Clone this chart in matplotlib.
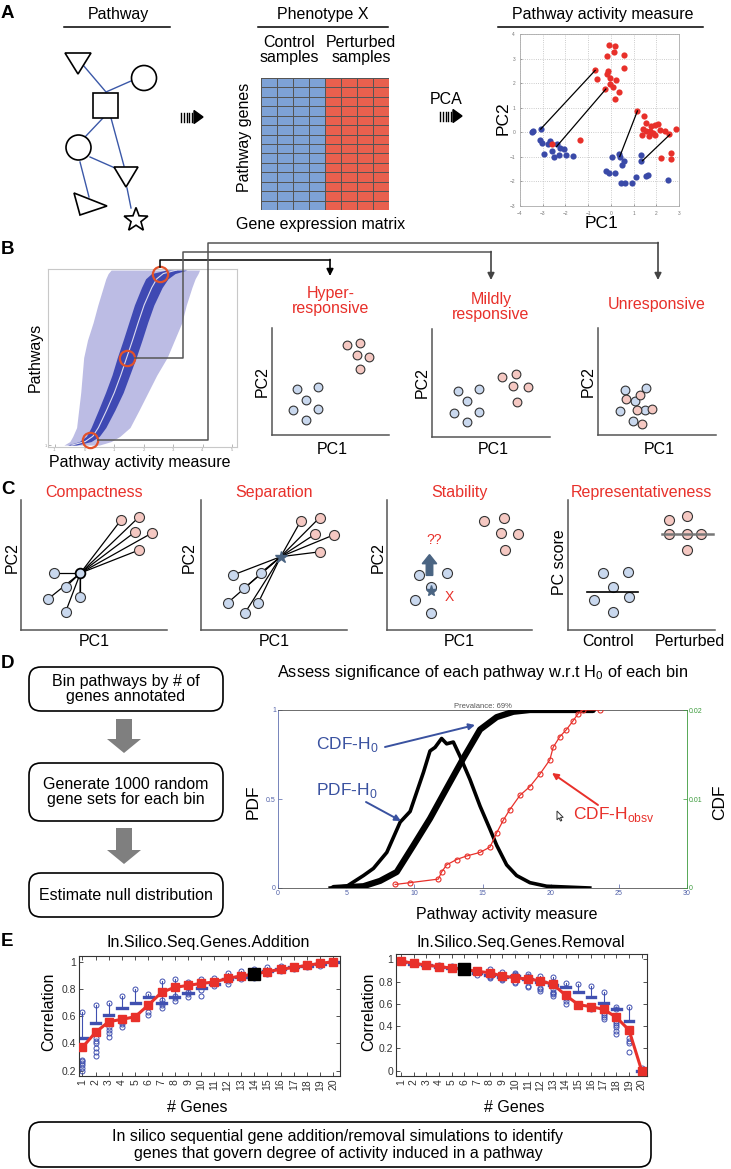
import matplotlib
matplotlib.use("Agg")
import matplotlib.pyplot as plt
import numpy as np
from matplotlib.colors import ListedColormap
from matplotlib.patches import Circle, Rectangle, Polygon, FancyBboxPatch, FancyArrow

plt.rcParams["font.family"] = ["Liberation Sans", "DejaVu Sans"]
plt.rcParams["mathtext.fontset"] = "custom"
plt.rcParams["mathtext.rm"] = "Liberation Sans"
plt.rcParams["font.size"] = 11.5

# ---------------- data ----------------
# A: PCA of pathway genes (control = blue, perturbed = red)
ctrl_pc1 = [-3.49, -3.41, -3.09, -3.12, -3.05, -2.78, -2.68, -2.39, -2.93, -2.57, -2.51,
            -2.27, -2.07, -1.98, -1.66, -2.24, 0.06, 0.36, 0.39, 0.58, 0.51, -0.22, -0.08,
            0.17, 0.46, 0.61, 0.95, 1.10, 1.64, 1.56, 1.31, 1.34, 2.52]
ctrl_pc2 = [0.03, 0.06, 0.13, -0.33, -0.44, -0.48, -0.37, -0.47, -0.88, -0.78, -1.01,
            -0.93, -0.69, -0.92, -0.95, -0.65, -0.99, -0.89, -0.99, -1.16, -1.33, -1.57,
            -1.64, -1.64, -2.05, -2.05, -2.05, -1.84, -1.73, -1.76, -0.92, -1.16, -1.94]
pert_pc1 = [-0.08, 0.19, 0.13, -0.15, 0.58, -0.69, 0.58, -0.11, -0.19, -0.63, 0.22, -0.02,
            0.10, -0.27, 0.36, 0.19, -0.05, -1.36, -2.57, 1.17, 1.46, 1.53, 1.75, 1.93, 2.08,
            1.42, 1.56, 1.86, 2.15, 2.37, 2.85, 2.56, 1.39, 1.66, 1.94, 2.66, 2.66, 2.22, 1.71]
pert_pc2 = [3.57, 3.50, 3.25, 3.09, 3.13, 2.52, 2.60, 2.48, 2.37, 2.18, 2.11, 1.98, 1.84,
            1.76, 1.64, 1.35, 2.19, -0.33, -0.48, 0.87, 0.67, 0.37, 0.24, 0.30, 0.35, 0.13,
            0.07, -0.01, 0.10, 0.07, 0.13, -0.06, -0.10, -0.14, -0.13, -0.85, -1.10, -1.05, 0.07]
link_ctrl_pc1 = [-3.09, -2.39, 0.39, 1.39]
link_ctrl_pc2 = [0.13, -0.58, -0.99, -1.16]
link_pert_pc1 = [-0.69, -0.22, 1.17, 2.59]
link_pert_pc2 = [2.52, 1.76, 0.87, -0.10]
n_genes = 14
sample_group = [0, 0, 0, 0, 1, 1, 1, 1]

# B: ranked pathway activity (rank fraction, bottom to top)
rank_pos = [0.0, 0.02, 0.05, 0.1, 0.2, 0.3, 0.4, 0.5, 0.6, 0.7, 0.8, 0.9, 0.95, 0.98, 1.0]
rank_center = [0.57, 1.02, 1.28, 1.47, 1.75, 2.01, 2.23, 2.43, 2.63, 2.82, 3.02, 3.28, 3.45, 3.67, 4.12]
rank_dark = [0.15, 0.2, 0.22, 0.25, 0.28, 0.3, 0.3, 0.32, 0.32, 0.32, 0.33, 0.35, 0.38, 0.4, 0.35]
rank_light_lo = [0.3, 0.5, 0.6, 0.73, 0.8, 0.87, 0.92, 0.97, 1.1, 1.29, 1.45, 1.63, 1.72, 1.8, 1.9]
rank_light_hi = [1.5, 1.9, 2.2, 2.54, 2.85, 3.15, 3.45, 3.8, 4.05, 4.3, 4.45, 4.64, 4.75, 4.85, 4.9]
picked_rank = [0.975, 0.5, 0.03]
picked_value = [3.56, 2.44, 1.19]

hyper_ctrl = ([0.21, 0.39, 0.29, 0.18, 0.39, 0.29], [0.43, 0.45, 0.33, 0.23, 0.24, 0.14])
hyper_pert = ([0.64, 0.75, 0.73, 0.83, 0.75], [0.84, 0.86, 0.75, 0.73, 0.62])
mild_ctrl = ([0.22, 0.40, 0.30, 0.19, 0.40, 0.30], [0.43, 0.44, 0.33, 0.22, 0.23, 0.14])
mild_pert = ([0.59, 0.71, 0.69, 0.81, 0.72], [0.56, 0.58, 0.47, 0.46, 0.32])
unresp_ctrl = ([0.23, 0.41, 0.31, 0.19, 0.40, 0.30], [0.42, 0.44, 0.32, 0.22, 0.23, 0.13])
unresp_pert = ([0.24, 0.36, 0.33, 0.46, 0.37], [0.34, 0.37, 0.23, 0.24, 0.10])

# C: metric schematics
comp_ctrl = ([0.226, 0.305, 0.185, 0.404, 0.305], [0.438, 0.331, 0.238, 0.254, 0.138])
comp_pert = ([0.685, 0.808, 0.781, 0.897, 0.808], [0.846, 0.869, 0.754, 0.746, 0.615])
comp_centroid = (0.407, 0.438)
sep_ctrl = ([0.219, 0.411, 0.295, 0.184, 0.390, 0.299], [0.423, 0.441, 0.321, 0.210, 0.205, 0.128])
sep_pert = ([0.683, 0.812, 0.779, 0.908, 0.818], [0.838, 0.864, 0.736, 0.731, 0.602])
sep_centroid = (0.546, 0.564)
stab_ctrl = ([0.224, 0.412, 0.303, 0.193, 0.303], [0.423, 0.441, 0.328, 0.231, 0.133])
stab_pert = ([0.669, 0.807, 0.783, 0.903, 0.814], [0.838, 0.864, 0.744, 0.736, 0.615])
stab_centroid = (0.303, 0.30)
rep_ctrl = ([0.241, 0.408, 0.304, 0.177, 0.415, 0.304], [0.441, 0.448, 0.333, 0.231, 0.256, 0.141])
rep_pert = ([0.686, 0.807, 0.686, 0.807, 0.903, 0.807], [0.846, 0.877, 0.736, 0.736, 0.736, 0.615])
rep_ctrl_median = 0.295
rep_pert_median = 0.738

# D: null and observed distributions
pdf_x = [3.83, 5.05, 6.27, 7.0, 7.98, 8.96, 9.69, 10.18, 10.67, 11.15, 11.52, 12.0, 12.37,
         12.86, 13.35, 14.08, 14.82, 15.55, 16.04, 16.77, 17.5, 18.48, 19.7, 22.87]
pdf_y = [0.0, 0.01, 0.07, 0.11, 0.20, 0.37, 0.43, 0.54, 0.65, 0.77, 0.79, 0.84, 0.81,
         0.82, 0.74, 0.61, 0.46, 0.33, 0.24, 0.13, 0.07, 0.03, 0.01, 0.0]
cdf0_x = [4.08, 6.27, 7.49, 8.71, 9.94, 11.15, 12.37, 13.6, 14.82, 16.04, 17.26, 18.48, 23.1]
cdf0_y = [0.0, 0.01, 0.04, 0.09, 0.24, 0.39, 0.56, 0.73, 0.89, 0.96, 0.99, 1.0, 1.0]
obs_x = [8.59, 9.69, 11.76, 12.0, 12.37, 13.1, 13.84, 14.82, 15.55, 16.04, 16.52, 17.0,
         17.74, 18.48, 19.21, 19.94, 20.18, 20.67, 21.16, 21.65, 22.02, 22.38, 23.6]
obs_y = [0.02, 0.03, 0.05, 0.09, 0.13, 0.16, 0.18, 0.20, 0.23, 0.31, 0.38, 0.44, 0.52,
         0.57, 0.64, 0.72, 0.79, 0.85, 0.89, 0.94, 0.98, 1.0, 1.0]

# E: in silico sequential addition / removal
n_gene_steps = list(range(1, 21))
add_corr = [0.371, 0.481, 0.560, 0.577, 0.596, 0.682, 0.775, 0.812, 0.826, 0.841,
            0.851, 0.878, 0.895, 0.909, 0.927, 0.944, 0.958, 0.973, 0.988, 1.0]
add_top = [0.63, 0.68, 0.70, 0.75, 0.80, 0.76, 0.86, 0.87, 0.85, 0.87,
           0.88, 0.92, 0.93, 0.95, 0.96, 0.97, 0.97, 0.98, 0.99, 1.0]
add_box = [0.44, 0.55, 0.61, 0.66, 0.70, 0.74, 0.70, 0.74, 0.77, 0.81,
           0.84, 0.87, 0.89, 0.91, 0.93, 0.95, 0.96, 0.97, 0.98, 1.0]
add_low = [[0.20, 0.22, 0.24, 0.26, 0.27, 0.28], [0.31, 0.34, 0.37, 0.40, 0.42, 0.44],
           [0.45, 0.48, 0.50, 0.52], [0.52, 0.54, 0.56], [0.59], [0.61, 0.63],
           [0.66, 0.68, 0.70, 0.72], [0.71, 0.73, 0.75], [0.74, 0.76, 0.78],
           [0.75, 0.79, 0.82], [0.82, 0.84, 0.86], [0.84, 0.86, 0.88], [0.87, 0.89, 0.90],
           [0.88, 0.90], [0.91, 0.92], [0.93, 0.94], [0.95], [0.96], [0.97], []]
add_best = 14
rem_corr = [0.985, 0.964, 0.949, 0.934, 0.922, 0.910, 0.892, 0.880, 0.850, 0.835,
            0.823, 0.808, 0.775, 0.677, 0.593, 0.575, 0.551, 0.479, 0.365, 0.0]
rem_top = [0.99, 0.97, 0.96, 0.95, 0.94, 0.93, 0.90, 0.91, 0.89, 0.88,
           0.87, 0.85, 0.84, 0.79, 0.78, 0.76, 0.71, 0.57, 0.57, 0.02]
rem_box = [0.98, 0.96, 0.95, 0.93, 0.92, 0.90, 0.88, 0.86, 0.84, 0.85,
           0.82, 0.80, 0.77, 0.75, 0.71, 0.66, 0.61, 0.55, 0.45, 0.0]
rem_low = [[], [], [0.94], [0.92], [0.91], [0.89], [0.86], [0.83, 0.84, 0.85],
           [0.81, 0.82, 0.83], [0.79, 0.80, 0.82, 0.86, 0.87], [0.75, 0.76, 0.85],
           [0.72, 0.73, 0.74], [0.67, 0.69, 0.70, 0.71, 0.73], [0.60, 0.63, 0.65],
           [0.58, 0.60], [0.55, 0.57], [0.46, 0.48, 0.50, 0.52],
           [0.33, 0.36, 0.39, 0.41, 0.43, 0.45, 0.55], [0.17, 0.25, 0.27, 0.29], []]
rem_best = 6

# ---------------- styles ----------------
RED = "#e8302a"
BLUE_DOT = "#3a4aa8"
CTRL_FILL = "#c9d8ee"
PERT_FILL = "#f5c8c2"
ANN_BLUE = "#3a52a0"

W, H = 731, 1169
fig = plt.figure(figsize=(W / 100, H / 100), dpi=100)
fig.patch.set_facecolor("white")


def px_axes(x0, y0, x1, y1):
    return fig.add_axes([x0 / W, 1 - y1 / H, (x1 - x0) / W, (y1 - y0) / H])


def to_px(ax, x, y):
    dx, dy = ax.transData.transform((x, y))
    return dx, H - dy


ov = fig.add_axes([0, 0, 1, 1])
ov.set_xlim(0, W)
ov.set_ylim(H, 0)
ov.axis("off")
ov.set_zorder(10)


def ov_text(x, y, s, **kw):
    kw.setdefault("ha", "center")
    kw.setdefault("va", "center")
    ov.text(x, y, s, **kw)


def ov_arrow(x0, y0, x1, y1, color="k", lw=1.2, ms=10):
    ov.annotate("", xy=(x1, y1), xytext=(x0, y0),
                arrowprops=dict(arrowstyle="-|>", color=color, lw=lw,
                                mutation_scale=ms, shrinkA=0, shrinkB=0))


def dash_arrow(x0, y):
    for i in range(5):
        ov.plot([x0 + i * 2.8, x0 + i * 2.8], [y - 4.5, y + 4.5], color="k", lw=1.0)
    ov.add_patch(Polygon([(x0 + 13, y - 6.5), (x0 + 13, y + 6.5), (x0 + 22, y)], color="k"))


def panel_label(x, y, s):
    ov_text(x, y, s, fontsize=13.5, fontweight="bold", ha="left")


# ---------------- A ----------------
panel_label(1, 13, "A")
for cx, x0, x1, title in [(118, 64, 170, "Pathway"), (323, 258, 388, "Phenotype X"),
                          (603, 498, 703, "Pathway activity measure")]:
    ov_text(cx, 14, title)
    ov.plot([x0, x1], [27, 27], color="k", lw=1.1)

edges = [((83, 65), (106, 92)), ((131, 81), (106, 92)), ((103, 118), (85, 137)),
         ((111, 118), (124, 166)), ((90, 157), (115, 168)), ((80, 162), (89, 197)),
         ((127, 188), (131, 208))]
for (ax0, ay0), (ax1, ay1) in edges:
    ov.plot([ax0, ax1], [ay0, ay1], color="#3b58a8", lw=1.0, zorder=1)
shape_kw = dict(fc="white", ec="k", lw=1.2, zorder=2)
ov.add_patch(Polygon([(65, 53), (91, 53), (78, 74)], **shape_kw))
ov.add_patch(Circle((144, 78), 12.5, **shape_kw))
ov.add_patch(Rectangle((93, 93), 24.5, 24.5, **shape_kw))
ov.add_patch(Circle((78.5, 147.5), 12.5, **shape_kw))
ov.add_patch(Polygon([(114, 167), (138, 167), (126, 187)], **shape_kw))
ov.add_patch(Polygon([(74, 193), (107, 206), (80, 215)], **shape_kw))
ang = np.pi / 2 + np.arange(10) * np.pi / 5
rad = np.where(np.arange(10) % 2 == 0, 12.5, 5.2)
ov.add_patch(Polygon(np.column_stack([136 + rad * np.cos(ang), 220 - rad * np.sin(ang)]), **shape_kw))

dash_arrow(181, 117)
ov_text(289, 50, "Control\nsamples", linespacing=0.95)
ov_text(361, 50, "Perturbed\nsamples", linespacing=0.95)
ov_text(245, 137, "Pathway genes", rotation=90)
ov_text(321, 224, "Gene expression matrix")

ax_m = px_axes(261, 78, 389, 210)
mat = np.array([sample_group] * n_genes)
ax_m.pcolormesh(mat, cmap=ListedColormap(["#7ea2d6", "#e9604e"]),
                edgecolors="#555555", linewidth=0.6)
ax_m.set_ylim(n_genes, 0)
ax_m.axis("off")

ov_text(446, 100, "PCA")
dash_arrow(440, 116)

ax_a = px_axes(520, 34, 679, 206)
ax_a.scatter(ctrl_pc1, ctrl_pc2, s=20, color=BLUE_DOT, lw=0, zorder=3)
ax_a.scatter(pert_pc1, pert_pc2, s=20, color=RED, lw=0, zorder=3)
for i in range(len(link_ctrl_pc1)):
    ax_a.plot([link_ctrl_pc1[i], link_pert_pc1[i]], [link_ctrl_pc2[i], link_pert_pc2[i]],
              color="k", lw=0.9, zorder=4)
ax_a.set_xlim(-4, 3)
ax_a.set_ylim(-3, 4)
ax_a.set_xticks(range(-4, 4))
ax_a.set_yticks(range(-3, 5))
ax_a.tick_params(labelsize=3.5, colors="#777777", length=1.5, width=0.5, direction="in")
ax_a.grid(True, ls=":", color="#bbbbbb", lw=0.6)
for sp in ax_a.spines.values():
    sp.set_color("#aaaaaa")
    sp.set_linewidth(0.6)
ov_text(503, 118, "PC2", rotation=90, fontsize=12.5)
ov_text(602, 223, "PC1", fontsize=12.5)

# ---------------- B ----------------
panel_label(1, 250, "B")
ax_r = px_axes(48, 269, 237, 447)
ax_r.fill_betweenx(rank_pos, rank_light_lo, rank_light_hi, color="#bcbce4", lw=0)
dark_lo = [c - d for c, d in zip(rank_center, rank_dark)]
dark_hi = [c + d for c, d in zip(rank_center, rank_dark)]
ax_r.fill_betweenx(rank_pos, dark_lo, dark_hi, color="#3f49b3", lw=0)
ax_r.plot(rank_center, rank_pos, color="#dcdcf0", lw=0.8)
ax_r.plot(picked_value, picked_rank, "o", ms=11, mfc="none", mec="#e2522b", mew=1.6,
          clip_on=False, zorder=5)
ax_r.set_xlim(-0.24, 6.17)
ax_r.set_ylim(-0.011, 1.006)
ax_r.set_xticks(range(0, 7))
ax_r.set_xticklabels([str(v) for v in range(-1, 6)])
ax_r.set_yticks([0])
ax_r.set_yticklabels(["1"])
ax_r.tick_params(labelsize=3, colors="#999999", length=2, width=0.5, direction="in", pad=1)
for sp in ax_r.spines.values():
    sp.set_color("#c8c8c8")
    sp.set_linewidth(0.8)
ov_text(35, 357, "Pathways", rotation=90)
ov_text(140, 463, "Pathway activity measure")

# connectors from picked pathways to the example panels
p_top = to_px(ax_r, picked_value[0], picked_rank[0])
p_mid = to_px(ax_r, picked_value[1], picked_rank[1])
p_bot = to_px(ax_r, picked_value[2], picked_rank[2])
ov.plot([p_top[0], p_top[0], 330], [p_top[1] - 7.5, 260, 260], color="k", lw=1.1)
ov_arrow(330, 259.5, 330, 276, color="k")
ov.plot([p_mid[0] + 7.5, 183, 183, 491], [p_mid[1], p_mid[1], 252, 252], color="#555555", lw=1.1)
ov_arrow(491, 251.5, 491, 280, color="#444444")
ov.plot([p_bot[0] + 7.5, 208, 208, 658], [p_bot[1], p_bot[1], 243, 243], color="#555555", lw=1.1)
ov_arrow(658, 242.5, 658, 280, color="#444444")


def schematic_axes(rect):
    ax = px_axes(*rect)
    ax.set_xlim(0, 1)
    ax.set_ylim(0, 1)
    ax.set_xticks([])
    ax.set_yticks([])
    for side in ["top", "right"]:
        ax.spines[side].set_visible(False)
    for side in ["left", "bottom"]:
        ax.spines[side].set_color("#555555")
        ax.spines[side].set_linewidth(1.1)
    ax.patch.set_alpha(0)
    return ax


def dots(ax, pts, fill, ms):
    ax.plot(pts[0], pts[1], "o", ms=ms, mfc=fill, mec="#333333", mew=0.8, ls="none",
            zorder=4, clip_on=False)


b_panels = [((272, 328, 389, 435), hyper_ctrl, hyper_pert, "Hyper-\nresponsive", 301, 262),
            ((432, 329, 550, 437), mild_ctrl, mild_pert, "Mildly\nresponsive", 307, 422),
            ((598, 328, 716, 435), unresp_ctrl, unresp_pert, "Unresponsive", 305, 588)]
for rect, c_pts, p_pts, title, ty, lx in b_panels:
    ax = schematic_axes(rect)
    dots(ax, c_pts, CTRL_FILL, 6.3)
    dots(ax, p_pts, PERT_FILL, 6.3)
    ov_text((rect[0] + rect[2]) / 2, ty, title, color=RED, linespacing=1.05)
    ov_text(lx, (rect[1] + rect[3]) / 2, "PC2", rotation=90)
    ov_text((rect[0] + rect[2]) / 2 + 2, 449, "PC1")

# ---------------- C ----------------
panel_label(1, 490, "C")
c_rects = [(21, 500, 167, 630), (201, 500, 347, 630), (387, 500, 532, 630), (568, 500, 715, 630)]
c_titles = ["Compactness", "Separation", "Stability", "Representativeness"]
c_axes = [schematic_axes(r) for r in c_rects]
for r, t in zip(c_rects, c_titles):
    ov_text((r[0] + r[2]) / 2, 493, t, color=RED)

# compactness
ax = c_axes[0]
for px_, py_ in zip(comp_ctrl[0] + comp_pert[0], comp_ctrl[1] + comp_pert[1]):
    ax.plot([comp_centroid[0], px_], [comp_centroid[1], py_], color="k", lw=0.9, zorder=2)
ax.plot([comp_centroid[0], comp_centroid[0]], [comp_centroid[1], 0.26], color="k", lw=0.9)
dots(ax, comp_ctrl, CTRL_FILL, 7.2)
dots(ax, comp_pert, PERT_FILL, 7.2)
ax.plot(*comp_centroid, "o", ms=7, mfc=CTRL_FILL, mec="k", mew=1.3, zorder=5)

# separation
ax = c_axes[1]
for px_, py_ in zip(sep_ctrl[0] + sep_pert[0], sep_ctrl[1] + sep_pert[1]):
    ax.plot([sep_centroid[0], px_], [sep_centroid[1], py_], color="k", lw=0.9, zorder=2)
dots(ax, sep_ctrl, CTRL_FILL, 7.2)
dots(ax, sep_pert, PERT_FILL, 7.2)
ax.plot(*sep_centroid, "*", ms=9, color="#4a6482", zorder=5)

# stability
ax = c_axes[2]
dots(ax, stab_ctrl, CTRL_FILL, 7.2)
dots(ax, stab_pert, PERT_FILL, 7.2)
ax.plot(*stab_centroid, "*", ms=8, color="#4a6482", zorder=6)
ax.add_patch(FancyArrow(0.293, 0.42, 0, 0.16, width=0.045, head_width=0.1, head_length=0.07,
                        length_includes_head=True, color="#4a6482", zorder=6))
ax.text(0.43, 0.255, "X", color=RED, fontsize=10, ha="center", va="center", zorder=6)
ax.text(0.325, 0.69, "??", color=RED, fontsize=10, ha="center", va="center")

# representativeness
ax = c_axes[3]
dots(ax, rep_ctrl, CTRL_FILL, 7.2)
dots(ax, rep_pert, PERT_FILL, 7.2)
ax.plot([0.129, 0.476], [rep_ctrl_median] * 2, color="k", lw=1.2, zorder=5)
ax.plot([0.641, 0.986], [rep_pert_median] * 2, color="#777777", lw=1.8, zorder=5)

for lx in [12, 189, 378]:
    ov_text(lx, 558, "PC2", rotation=90)
ov_text(559, 562, "PC score", rotation=90)
for r in c_rects[:3]:
    ov_text((r[0] + r[2]) / 2, 642, "PC1")
ov_text(608, 642, "Control")
ov_text(690, 642, "Perturbed")

# ---------------- D ----------------
panel_label(1, 663, "D")
box_kw = dict(boxstyle="round,pad=0,rounding_size=12", fc="white", ec="k", lw=1.2)
d_boxes = [(667, 711, "Bin pathways by # of\ngenes annotated"),
           (763, 821, "Generate 1000 random\ngene sets for each bin"),
           (873, 917, "Estimate null distribution")]
for y0, y1, txt in d_boxes:
    ov.add_patch(FancyBboxPatch((29, y0), 194, y1 - y0, **box_kw))
    ov_text(126, (y0 + y1) / 2, txt, linespacing=1.05)
for y0, y1 in [(719, 753), (828, 864)]:
    ov.add_patch(FancyArrow(124, y0, 0, y1 - y0, width=16, head_width=34, head_length=14,
                            length_includes_head=True, color="#7f7f7f", lw=0))

ov_text(483, 673, r"Assess significance of each pathway w.r.t H$_{\rm 0}$ of each bin", fontsize=11.8)
ax_d = px_axes(278, 710, 687, 888)
ax_d.plot(pdf_x, pdf_y, color="k", lw=2.6, zorder=3)
ax_d.plot(cdf0_x, cdf0_y, color="k", lw=4.5, solid_capstyle="round", zorder=3)
ax_d.plot(obs_x, obs_y, color=RED, lw=0.9, marker="o", ms=3.6, mfc="none", mec=RED,
          mew=0.8, zorder=4)
ax_d.set_xlim(0, 30)
ax_d.set_ylim(0, 1)
ax_d.set_xticks(range(0, 31, 5))
ax_d.set_yticks([0, 0.5, 1])
ax_d.set_yticklabels(["0", "0.5", "1"])
ax_d.tick_params(labelsize=5, colors="#5060a8", length=3, width=0.5, direction="in", pad=1.5)
ax_d.set_title("Prevalance: 69%", fontsize=5.5, color="#555555", pad=1.5)
ax_d.spines["left"].set_color("#6070b0")
ax_d.spines["right"].set_color("#3a9a3a")
for side in ["top", "bottom"]:
    ax_d.spines[side].set_color("#555555")
for sp in ax_d.spines.values():
    sp.set_linewidth(0.6)
ax_d2 = ax_d.twinx()
ax_d2.set_ylim(0, 0.02)
ax_d2.set_yticks([0, 0.01, 0.02])
ax_d2.set_yticklabels(["0", "0.01", "0.02"])
ax_d2.tick_params(labelsize=5, colors="#3a9a3a", length=3, width=0.5, direction="in", pad=1.5)
for sp in ax_d2.spines.values():
    sp.set_visible(False)

ov_text(253, 802, "PDF", rotation=90, fontsize=12.5)
ov_text(720, 802, "CDF", rotation=90, fontsize=12.5)
ov_text(507, 914, "Pathway activity measure")
ov_text(347, 745, r"CDF-H$_{\rm 0}$", color=ANN_BLUE, fontsize=12.5)
ov_arrow(385, 747, 475, 725, color=ANN_BLUE, lw=1.4, ms=9)
ov_text(347, 790, r"PDF-H$_{\rm 0}$", color=ANN_BLUE, fontsize=12.5)
ov_arrow(366, 802, 401, 821, color=ANN_BLUE, lw=1.4, ms=9)
ov_text(614, 814, r"CDF-H$_{\rm obsv}$", color=RED, fontsize=12.5)
ov_arrow(598, 805, 552, 773, color=RED, lw=1.4, ms=9)
cursor = np.array([(0, 0), (0, 11), (2.6, 8.6), (4.4, 12.6), (6, 11.8), (4.3, 8), (7.8, 8)])
ov.add_patch(Polygon(cursor * 0.8 + [557, 811], fc="white", ec="#333333", lw=0.7))

# ---------------- E ----------------
panel_label(1, 942, "E")


def seq_panel(rect, corr, top, box, low, best, ylim, xlim, yticks):
    ax = px_axes(*rect)
    for g, t, b, lows in zip(n_gene_steps, top, box, low):
        ax.plot([g, g], [b, t], color="#4050b0", lw=0.8, zorder=2)
        ax.plot(g, t, "o", ms=3.6, mfc="none", mec="#4050b0", mew=0.7, zorder=2)
        ax.plot([g - 0.35, g + 0.35], [b, b], color="#4050b0", lw=2.4, zorder=2)
        if lows:
            ax.plot([g] * len(lows), lows, "o", ms=3.6, mfc="none", mec="#4050b0",
                    mew=0.7, ls="none", zorder=2)
    ax.plot(n_gene_steps, corr, color=RED, lw=2.2, marker="s", ms=5.5, mec=RED, zorder=4)
    ax.plot(best, corr[best - 1], "s", ms=9, color="k", zorder=5)
    ax.set_xlim(*xlim)
    ax.set_ylim(*ylim)
    ax.set_xticks(n_gene_steps)
    ax.set_xticklabels([str(g) for g in n_gene_steps], rotation=90)
    ax.set_yticks(yticks)
    ax.set_yticklabels(["0" if v == 0 else ("1" if v == 1 else f"{v:.1f}") for v in yticks])
    ax.tick_params(labelsize=7.5, colors="#333333", length=3, width=0.6, direction="in",
                   top=True, right=True, pad=2)
    for sp in ax.spines.values():
        sp.set_color("#333333")
        sp.set_linewidth(0.8)
    return ax


seq_panel((79, 956, 340, 1076), add_corr, add_top, add_box, add_low, add_best,
          (0.161, 1.042), (0.75, 20.5), [0.2, 0.4, 0.6, 0.8, 1.0])
seq_panel((396, 954, 647, 1076), rem_corr, rem_top, rem_box, rem_low, rem_best,
          (-0.048, 1.048), (0.6, 20.42), [0, 0.2, 0.4, 0.6, 0.8, 1.0])
ov_text(208, 943, "In.Silico.Seq.Genes.Addition")
ov_text(521, 943, "In.Silico.Seq.Genes.Removal")
ov_text(49, 1012, "Correlation", rotation=90)
ov_text(369, 1012, "Correlation", rotation=90)
ov_text(197, 1108, "# Genes")
ov_text(514, 1108, "# Genes")

ov.add_patch(FancyBboxPatch((29, 1122), 622, 45, **box_kw))
ov_text(338, 1145, "In silico sequential gene addition/removal simulations to identify\n"
                   "genes that govern degree of activity induced in a pathway", linespacing=1.15)

fig.savefig("out.png", dpi=100, facecolor="white")
